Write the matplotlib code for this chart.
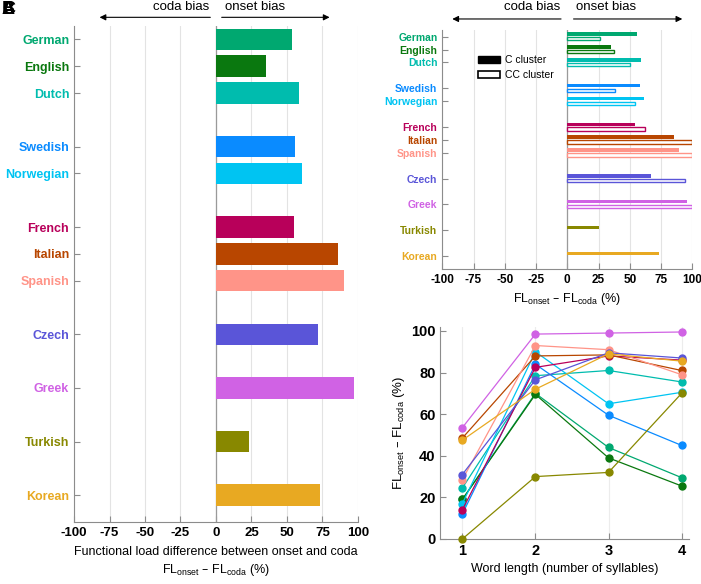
import matplotlib
matplotlib.use("Agg")
import matplotlib.pyplot as plt
from matplotlib.patches import Patch
import numpy as np

plt.rcParams['font.family'] = ['Liberation Sans', 'DejaVu Sans']
plt.rcParams['mathtext.default'] = 'regular'
plt.rcParams['axes.unicode_minus'] = False

# languages, their slot on the y axis and colours
languages = ["German", "English", "Dutch", "Swedish", "Norwegian", "French",
             "Italian", "Spanish", "Czech", "Greek", "Turkish", "Korean"]
slots = [0, 1, 2, 4, 5, 7, 8, 9, 11, 13, 15, 17]
colors = ["#00a870", "#0a780f", "#00bcae", "#0a8bff", "#00c4f2", "#b8005a",
          "#b84600", "#ff9488", "#5a55d8", "#d062e4", "#888800", "#e8a922"]

# panel A: overall onset-coda difference (%)
overall = [53.5, 35.5, 58.5, 55.5, 60.5, 55, 86, 90, 72, 97, 23, 73]

# panel B: by cluster type
c_cluster = [56, 35, 59, 58, 61, 54, 85, 89, 67, 96, 25, 73]
cc_cluster = [26, 37, 50.5, 38, 54, 62.5, 99.5, 100, 94, 100, np.nan, np.nan]

# panel C: by word length (syllables)
syllables = [1, 2, 3, 4]
by_length = {
    "German":    [19, 70, 44, 29.5],
    "English":   [19, 69.5, 39, 25.5],
    "Dutch":     [24.5, 78.5, 81, 75.5],
    "Swedish":   [12, 84, 59.5, 45],
    "Norwegian": [17, 90, 65, 70.5],
    "French":    [14, 82.5, 88, 86],
    "Italian":   [48.5, 88, 88.5, 81],
    "Spanish":   [28.5, 93, 91, 79],
    "Czech":     [31, 76.5, 89.5, 87],
    "Greek":     [53.5, 98.5, 99, 99.5],
    "Turkish":   [0, 30, 32, 70],
    "Korean":    [47.5, 72, 89, 85.5],
}

xticks = [-100, -75, -50, -25, 0, 25, 50, 75, 100]
W, H = 701, 584
fig = plt.figure(figsize=(W / 100, H / 100), dpi=100)


def px_rect(left, top, right, bottom):
    return [left / W, 1 - bottom / H, (right - left) / W, (bottom - top) / H]


def style_axes(ax, xsize, ysize):
    for s in ["top", "right"]:
        ax.spines[s].set_visible(False)
    for s in ["left", "bottom"]:
        ax.spines[s].set_color("#8c8c8c")
    ax.tick_params(direction="in", length=4, color="#8c8c8c")
    ax.tick_params(axis="x", labelsize=xsize)
    ax.tick_params(axis="y", labelsize=ysize)
    for lab in ax.get_xticklabels() + ax.get_yticklabels():
        lab.set_fontweight("bold")


def bias_arrows(ax, y_arrow, y_text, left_end, right_end, start, fs):
    tr = ax.get_xaxis_transform()
    for end, st in [(left_end, -start), (right_end, start)]:
        ax.annotate("", xy=(end, y_arrow), xytext=(st, y_arrow), xycoords=tr,
                    textcoords=tr, annotation_clip=False,
                    arrowprops=dict(arrowstyle="-|>", color="black", lw=0.8,
                                    mutation_scale=9, shrinkA=0, shrinkB=0))
    ax.text(-start - 1, y_text, "coda bias", transform=tr, ha="right", va="center",
            fontsize=fs, clip_on=False)
    ax.text(start + 2, y_text, "onset bias", transform=tr, ha="left", va="center",
            fontsize=fs, clip_on=False)


# ---- panel A
axA = fig.add_axes(px_rect(74, 26, 358, 522))
axA.barh(slots, overall, height=0.8, color=colors, zorder=3)
axA.set_xlim(-100, 100)
axA.set_ylim(18, -0.5)
axA.set_xticks(xticks)
axA.set_xticklabels([str(t) for t in xticks])
axA.set_yticks(slots)
axA.set_yticklabels(languages)
axA.grid(axis="x", color="#e3e3e3", lw=0.8, zorder=0)
axA.axvline(0, color="#9a9a9a", lw=0.9, zorder=2)
style_axes(axA, 9.5, 9)
for lab, c in zip(axA.get_yticklabels(), colors):
    lab.set_color(c)
axA.set_xlabel("Functional load difference between onset and coda\n"
               "FL$_{onset}$ – FL$_{coda}$ (%)", fontsize=9, labelpad=5,
               linespacing=1.35)
bias_arrows(axA, 1.0175, 1.039, -82, 80, 4, 9.5)

# ---- panel B
axB = fig.add_axes(px_rect(442.3, 30.2, 692.3, 269))
ys = np.array(slots)
axB.barh(ys - 0.21, c_cluster, height=0.27, color=colors, zorder=3)
axB.barh(ys + 0.16, cc_cluster, height=0.25, color="white", edgecolor=colors,
         linewidth=1.0, zorder=3)
axB.set_xlim(-100, 100)
axB.set_ylim(18, -0.5)
axB.set_xticks(xticks)
axB.set_xticklabels([str(t) for t in xticks])
axB.set_yticks(slots)
axB.set_yticklabels(languages)
axB.grid(axis="x", color="#e3e3e3", lw=0.8, zorder=0)
axB.axvline(0, color="#9a9a9a", lw=0.9, zorder=2)
style_axes(axB, 8.5, 7.5)
for lab, c in zip(axB.get_yticklabels(), colors):
    lab.set_color(c)
axB.set_xlabel("FL$_{onset}$ – FL$_{coda}$ (%)", fontsize=9, labelpad=4)
handles = [Patch(facecolor="black", edgecolor="black", label="C cluster"),
           Patch(facecolor="white", edgecolor="black", lw=1.2, label="CC cluster")]
axB.legend(handles=handles, loc="upper left", bbox_to_anchor=(0.105, 0.935),
           frameon=False, fontsize=7.5, handlelength=2.1, handleheight=0.65,
           handletextpad=0.5, labelspacing=0.45)
bias_arrows(axB, 1.047, 1.097, -92, 92, 5, 9.5)

# ---- panel C
axC = fig.add_axes(px_rect(440.4, 326.8, 688.9, 539))
for lang, c in zip(languages, colors):
    axC.plot(syllables, by_length[lang], "-o", color=c, lw=0.9, ms=5,
             clip_on=False, zorder=3)
axC.set_xlim(0.7, 4.1)
axC.set_ylim(0, 102)
axC.set_xticks(syllables)
axC.set_yticks([0, 20, 40, 60, 80, 100])
axC.grid(axis="x", color="#ececec", lw=0.8, zorder=0)
style_axes(axC, 10.5, 10.5)
axC.set_xlabel("Word length (number of syllables)", fontsize=9, labelpad=4)
axC.set_ylabel("FL$_{onset}$ – FL$_{coda}$ (%)", fontsize=9.5, labelpad=3)

# panel letters (drawn on top of each other, as in the source)
for letter in ["A", "B", "C"]:
    fig.text(2 / W, 1 - 10 / H, letter, fontsize=13, fontweight="bold",
             ha="left", va="center")

fig.savefig("out.png", dpi=100)
